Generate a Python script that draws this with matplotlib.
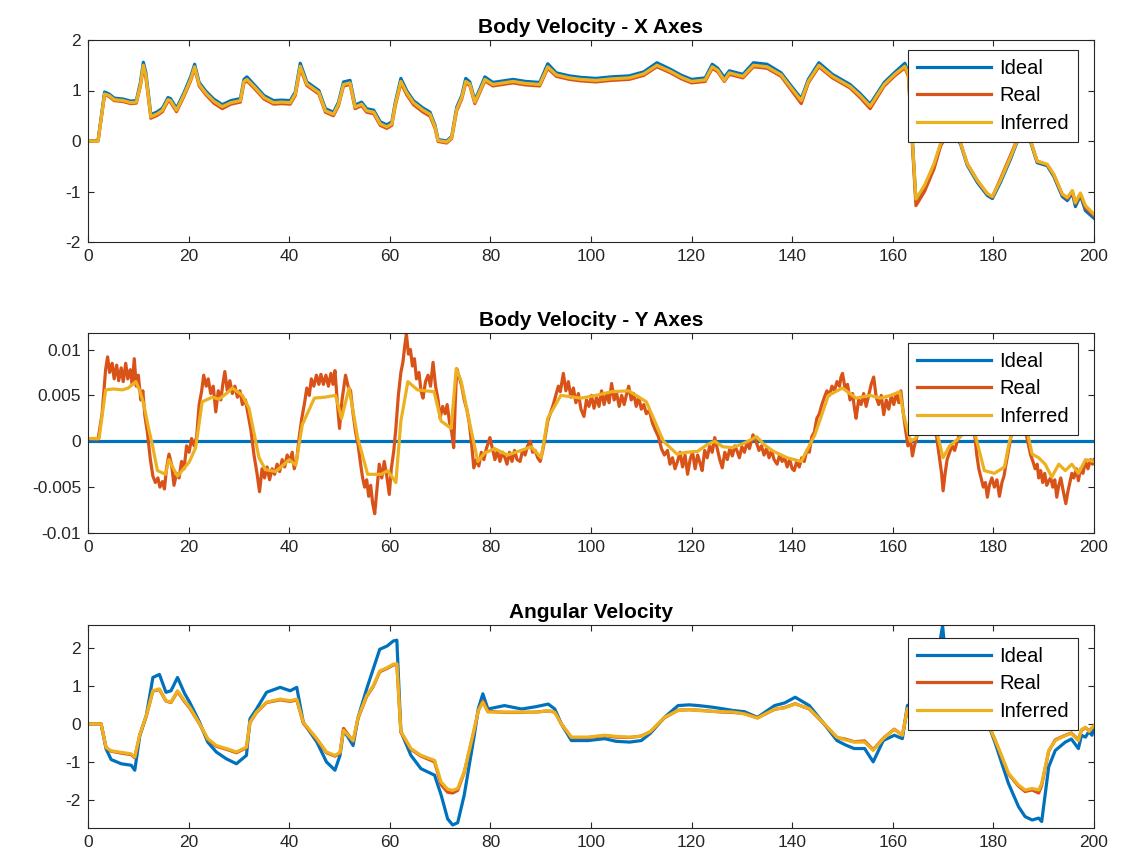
import matplotlib
matplotlib.use("Agg")
import matplotlib.pyplot as plt
import numpy as np

plt.rcParams['font.family'] = ['Liberation Sans', 'DejaVu Sans']
plt.rcParams['axes.unicode_minus'] = False

# ---------------- Panel 1 : Body Velocity - X ----------------
vx_t = [0, 2.0, 3.3, 4.2, 5.2, 7.0, 8.5, 9.6, 10.4, 11.0,
        11.5, 12.5, 13.8, 14.8, 15.9, 16.4, 17.6, 19.1, 20.4, 21.2,
        22.1, 23.4, 25.0, 26.7, 28.4, 30.3, 31.0, 31.6, 33.0, 35.0,
        36.9, 38.5, 40.2, 41.2, 42.2, 43.5, 44.9, 45.9, 47.2, 48.8,
        49.8, 50.8, 52.1, 53.1, 54.4, 55.4, 56.8, 58.1, 59.4, 60.4,
        61.1, 62.2, 63.4, 64.7, 66.5, 68.0, 69.0, 69.6, 71.3, 72.3,
        73.3, 74.3, 75.1, 75.9, 76.9, 77.9, 78.9, 80.5, 82.5, 84.5,
        87.0, 89.8, 91.4, 93.1, 95.7, 98.0, 101.0, 104.0, 107.6, 110.5,
        113.1, 115.8, 118.0, 120.0, 122.7, 124.1, 125.2, 126.5, 127.5, 130.2,
        132.3, 135.0, 137.8, 139.8, 141.8, 143.2, 145.3, 148.0, 151.5, 153.5,
        155.5, 158.3, 160.5, 162.4, 163.1, 164.6, 166.3, 168.2, 169.5, 171.3,
        173.5, 174.8, 176.8, 178.8, 179.8, 181.4, 183.4, 184.7, 186.0, 187.4,
        188.7, 190.7, 192.0, 193.7, 194.7, 195.7, 196.3, 197.3, 198.3, 200.0]
vx_ideal = [0.00, 0.01, 0.97, 0.93, 0.85, 0.83, 0.79, 0.80, 1.15, 1.56,
            1.36, 0.52, 0.58, 0.65, 0.86, 0.84, 0.65, 0.96, 1.27, 1.52,
            1.16, 0.99, 0.83, 0.72, 0.80, 0.84, 1.22, 1.27, 1.12, 0.90,
            0.80, 0.81, 0.80, 0.97, 1.54, 1.17, 1.07, 1.00, 0.64, 0.57,
            0.77, 1.17, 1.20, 0.71, 0.77, 0.64, 0.61, 0.38, 0.32, 0.38,
            0.77, 1.24, 0.99, 0.80, 0.66, 0.57, 0.31, 0.03, 0.00, 0.09,
            0.67, 0.90, 1.24, 1.17, 0.81, 1.03, 1.27, 1.16, 1.19, 1.22,
            1.18, 1.16, 1.53, 1.35, 1.29, 1.26, 1.24, 1.27, 1.29, 1.37,
            1.55, 1.42, 1.30, 1.22, 1.25, 1.52, 1.44, 1.26, 1.39, 1.32,
            1.55, 1.52, 1.35, 1.09, 0.84, 1.22, 1.55, 1.32, 1.12, 0.94,
            0.73, 1.16, 1.37, 1.54, 1.36, -1.18, -0.92, -0.48, -0.07, 0.27,
            -0.07, -0.48, -0.82, -1.08, -1.14, -0.82, -0.36, -0.02, 0.12, -0.02,
            -0.43, -0.49, -0.70, -1.10, -1.18, -1.03, -1.30, -1.08, -1.38, -1.53]
vx_real = [0.00, 0.00, 0.92, 0.88, 0.80, 0.78, 0.74, 0.75, 1.08, 1.45,
           1.26, 0.45, 0.51, 0.58, 0.79, 0.77, 0.58, 0.89, 1.19, 1.44,
           1.09, 0.92, 0.75, 0.64, 0.73, 0.77, 1.15, 1.19, 1.05, 0.83,
           0.73, 0.74, 0.73, 0.90, 1.44, 1.10, 1.00, 0.93, 0.57, 0.50,
           0.70, 1.09, 1.12, 0.64, 0.70, 0.57, 0.54, 0.31, 0.25, 0.31,
           0.70, 1.15, 0.91, 0.72, 0.58, 0.49, 0.25, -0.01, -0.04, 0.05,
           0.60, 0.83, 1.15, 1.10, 0.74, 0.96, 1.19, 1.09, 1.12, 1.15,
           1.11, 1.09, 1.44, 1.28, 1.22, 1.19, 1.17, 1.20, 1.22, 1.30,
           1.47, 1.35, 1.23, 1.15, 1.18, 1.44, 1.37, 1.18, 1.32, 1.25,
           1.47, 1.44, 1.28, 1.01, 0.74, 1.15, 1.47, 1.25, 1.05, 0.86,
           0.64, 1.09, 1.30, 1.45, 1.28, -1.28, -1.00, -0.55, -0.10, 0.22,
           -0.05, -0.45, -0.78, -1.05, -1.11, -0.75, -0.28, 0.02, 0.10, 0.00,
           -0.40, -0.47, -0.67, -1.06, -1.14, -1.00, -1.24, -1.05, -1.32, -1.48]
vx_inferred = [0.00, 0.00, 0.93, 0.90, 0.82, 0.80, 0.76, 0.77, 1.10, 1.50,
               1.30, 0.48, 0.54, 0.61, 0.82, 0.80, 0.61, 0.92, 1.22, 1.47,
               1.12, 0.95, 0.79, 0.68, 0.76, 0.80, 1.18, 1.22, 1.08, 0.86,
               0.76, 0.77, 0.76, 0.93, 1.48, 1.13, 1.03, 0.96, 0.60, 0.53,
               0.73, 1.12, 1.15, 0.67, 0.73, 0.60, 0.57, 0.34, 0.28, 0.34,
               0.73, 1.18, 0.95, 0.76, 0.62, 0.53, 0.28, 0.01, -0.02, 0.07,
               0.63, 0.86, 1.18, 1.13, 0.77, 0.99, 1.22, 1.12, 1.15, 1.18,
               1.14, 1.12, 1.47, 1.31, 1.25, 1.22, 1.20, 1.23, 1.25, 1.33,
               1.50, 1.38, 1.26, 1.18, 1.21, 1.47, 1.40, 1.20, 1.35, 1.28,
               1.50, 1.47, 1.31, 1.05, 0.80, 1.18, 1.50, 1.28, 1.08, 0.90,
               0.69, 1.12, 1.33, 1.48, 1.32, -1.15, -0.88, -0.45, -0.05, 0.25,
               -0.05, -0.45, -0.78, -1.04, -1.10, -0.78, -0.32, 0.00, 0.10, 0.00,
               -0.40, -0.46, -0.66, -1.05, -1.12, -0.98, -1.22, -1.03, -1.28, -1.45]

# ---------------- Panel 2 : Body Velocity - Y ----------------
vy_ideal_t = [0, 200]
vy_ideal = [0.0, 0.0]
vy_inferred_t = [0, 2.2, 3.5, 5.0, 6.8, 8.0, 9.5, 10.3, 11.1, 12.0,
                 12.8, 13.8, 15.4, 16.1, 17.0, 17.8, 19.0, 20.1, 21.4, 22.7,
                 24.7, 26.0, 27.5, 28.7, 30.7, 32.0, 34.0, 35.3, 37.3, 38.8,
                 40.0, 41.3, 42.6, 45.0, 47.0, 49.2, 50.4, 51.9, 53.6, 55.6,
                 58.3, 59.6, 61.2, 62.2, 63.6, 65.5, 68.8, 70.2, 72.2, 73.2,
                 74.2, 76.1, 77.5, 78.8, 80.8, 83.4, 86.1, 88.1, 90.1, 91.4,
                 94.0, 98.0, 101.0, 104.1, 107.5, 111.0, 114.4, 117.1, 119.0, 121.2,
                 123.0, 124.6, 126.2, 128.1, 130.5, 132.9, 134.5, 136.3, 139.0, 141.8,
                 144.5, 147.2, 150.0, 152.7, 155.5, 157.5, 159.6, 161.4, 162.1, 163.5,
                 164.5, 166.5, 168.7, 170.0, 171.3, 173.3, 174.8, 176.2, 178.2, 180.2,
                 182.2, 183.2, 185.0, 186.7, 187.7, 189.0, 190.3, 191.6, 193.0, 194.3,
                 195.6, 196.9, 198.3, 200.0]
vy_inferred = [0.0003, 0.0003, 0.0056, 0.0057, 0.0056, 0.0058, 0.0065, 0.0055, 0.0040, 0.0015,
               -0.0004, -0.0032, -0.0036, -0.0020, -0.0030, -0.0038, -0.0030, -0.0023, -0.0007, 0.0043,
               0.0048, 0.0046, 0.0052, 0.0058, 0.0050, 0.0036, -0.0018, -0.0031, -0.0033, -0.0026,
               -0.0020, -0.0026, 0.0018, 0.0047, 0.0048, 0.0050, 0.0025, 0.0058, 0.0004, -0.0036,
               -0.0036, -0.0032, -0.0045, 0.0022, 0.0065, 0.0056, 0.0054, 0.0022, 0.0014, 0.0079,
               0.0065, 0.0014, -0.0022, -0.0013, -0.0008, -0.0015, -0.0010, -0.0006, -0.0018, 0.0025,
               0.0050, 0.0047, 0.0050, 0.0054, 0.0055, 0.0043, 0.0000, -0.0014, -0.0012, -0.0011,
               -0.0004, 0.0000, -0.0006, -0.0007, -0.0002, 0.0005, -0.0004, -0.0011, -0.0018, -0.0022,
               0.0007, 0.0050, 0.0058, 0.0047, 0.0050, 0.0047, 0.0050, 0.0054, 0.0030, 0.0000,
               0.0003, 0.0020, 0.0011, -0.0018, -0.0005, 0.0004, 0.0015, 0.0011, -0.0032, -0.0035,
               -0.0028, 0.0000, 0.0030, 0.0011, -0.0014, -0.0018, -0.0025, -0.0039, -0.0025, -0.0032,
               -0.0025, -0.0035, -0.0020, -0.0022]
vy_real = [
    (0, 0.0003), (2.0, 0.0002), (2.8, 0.0030), (3.5, 0.0078), (3.9, 0.0092), (4.3, 0.0075),
    (4.8, 0.0085), (5.2, 0.0068), (5.7, 0.0083), (6.1, 0.0066), (6.6, 0.0080), (7.0, 0.0065),
    (7.5, 0.0085), (7.9, 0.0068), (8.4, 0.0078), (8.8, 0.0062), (9.2, 0.0090), (9.6, 0.0060),
    (10.0, 0.0072), (10.5, 0.0045), (10.9, 0.0055), (11.3, 0.0028), (11.8, 0.0010), (12.4, -0.0020),
    (12.9, -0.0038), (13.4, -0.0045), (13.9, -0.0040), (14.3, -0.0050), (14.8, -0.0044), (15.2, -0.0052),
    (15.6, -0.0030), (16.1, -0.0014), (16.6, -0.0025), (17.1, -0.0048), (17.6, -0.0035), (18.1, -0.0040),
    (18.6, -0.0022), (19.1, -0.0030), (19.6, -0.0005), (20.1, -0.0012), (20.6, 0.0003), (21.1, -0.0005),
    (21.6, 0.0005), (22.1, 0.0040), (22.6, 0.0055), (23.0, 0.0072), (23.5, 0.0060), (23.9, 0.0068),
    (24.4, 0.0052), (24.9, 0.0060), (25.4, 0.0032), (25.9, 0.0055), (26.4, 0.0045), (26.8, 0.0062),
    (27.2, 0.0076), (27.7, 0.0055), (28.2, 0.0066), (28.7, 0.0052), (29.2, 0.0060), (29.7, 0.0048),
    (30.2, 0.0055), (30.7, 0.0040), (31.3, 0.0045), (31.8, 0.0030), (32.4, 0.0012), (33.0, -0.0015),
    (33.6, -0.0035), (34.1, -0.0055), (34.6, -0.0030), (35.1, -0.0040), (35.6, -0.0028), (36.1, -0.0042),
    (36.6, -0.0030), (37.1, -0.0036), (37.6, -0.0025), (38.1, -0.0033), (38.6, -0.0020), (39.1, -0.0028),
    (39.6, -0.0015), (40.1, -0.0022), (40.6, -0.0012), (41.0, -0.0030), (41.5, -0.0020), (42.0, 0.0005),
    (42.5, 0.0025), (43.0, 0.0040), (43.5, 0.0058), (44.0, 0.0050), (44.4, 0.0068), (44.9, 0.0060),
    (45.4, 0.0072), (45.9, 0.0062), (46.3, 0.0073), (46.8, 0.0062), (47.3, 0.0072), (47.8, 0.0060),
    (48.3, 0.0074), (48.7, 0.0062), (49.1, 0.0077), (49.6, 0.0040), (50.0, 0.0014), (50.5, 0.0045),
    (51.2, 0.0072), (51.7, 0.0060), (52.2, 0.0055), (52.7, 0.0030), (53.2, 0.0010), (53.7, -0.0004),
    (54.2, -0.0025), (54.6, -0.0040), (55.0, -0.0050), (55.4, -0.0042), (55.8, -0.0060), (56.2, -0.0048),
    (56.6, -0.0068), (57.0, -0.0079), (57.4, -0.0055), (57.9, -0.0025), (58.4, -0.0040), (58.9, -0.0022),
    (59.4, -0.0038), (59.9, -0.0058), (60.3, -0.0030), (60.8, -0.0010), (61.2, 0.0014), (61.7, 0.0050),
    (62.2, 0.0075), (62.6, 0.0086), (63.0, 0.0105), (63.3, 0.0117), (63.7, 0.0095), (64.1, 0.0100),
    (64.5, 0.0082), (64.9, 0.0090), (65.3, 0.0068), (65.8, 0.0075), (66.2, 0.0055), (66.6, 0.0047),
    (67.1, 0.0065), (67.6, 0.0072), (68.1, 0.0060), (68.6, 0.0086), (69.1, 0.0060), (69.6, 0.0045),
    (70.0, 0.0025), (70.5, 0.0038), (71.0, 0.0030), (71.4, 0.0040), (71.9, 0.0020), (72.3, 0.0010),
    (72.7, -0.0007), (73.0, 0.0040), (73.3, 0.0079), (73.8, 0.0070), (74.3, 0.0060), (74.8, 0.0045),
    (75.3, 0.0035), (75.8, 0.0020), (76.3, -0.0005), (76.7, -0.0029), (77.2, -0.0020), (77.7, -0.0027),
    (78.2, -0.0012), (78.7, -0.0020), (79.2, -0.0008), (79.9, 0.0004), (80.4, -0.0008), (80.9, -0.0020),
    (81.4, -0.0010), (81.9, -0.0022), (82.4, -0.0012), (82.9, -0.0018), (83.3, -0.0025), (83.8, -0.0012),
    (84.3, -0.0022), (84.8, -0.0010), (85.3, -0.0020), (85.9, -0.0022), (86.4, -0.0010), (86.9, -0.0015),
    (87.4, -0.0005), (87.9, 0.0000), (88.4, -0.0012), (88.9, -0.0010), (89.4, -0.0018), (89.9, -0.0022),
    (90.4, -0.0010), (90.9, 0.0005), (91.4, 0.0022), (92.0, 0.0032), (92.5, 0.0040), (93.0, 0.0050),
    (93.5, 0.0060), (93.9, 0.0054), (94.5, 0.0074), (95.0, 0.0055), (95.5, 0.0065), (96.0, 0.0048),
    (96.5, 0.0058), (97.0, 0.0042), (97.5, 0.0052), (98.0, 0.0035), (98.6, 0.0027), (99.1, 0.0045),
    (99.6, 0.0038), (100.1, 0.0050), (100.6, 0.0036), (101.1, 0.0048), (101.6, 0.0038), (102.1, 0.0055),
    (102.6, 0.0040), (103.1, 0.0052), (103.6, 0.0042), (104.1, 0.0063), (104.6, 0.0045), (105.1, 0.0052),
    (105.6, 0.0038), (106.1, 0.0050), (106.6, 0.0040), (107.1, 0.0052), (107.5, 0.0060), (108.0, 0.0045),
    (108.5, 0.0052), (109.0, 0.0038), (109.5, 0.0048), (110.0, 0.0035), (110.5, 0.0040), (111.0, 0.0030),
    (111.6, 0.0034), (112.2, 0.0020), (112.8, 0.0012), (113.4, 0.0005), (114.0, -0.0008), (114.6, -0.0015),
    (115.2, -0.0010), (115.7, -0.0025), (116.2, -0.0018), (116.7, -0.0030), (117.2, -0.0022), (117.7, -0.0012),
    (118.2, -0.0028), (118.7, -0.0015), (119.2, -0.0036), (119.7, -0.0020), (120.2, -0.0012), (120.7, -0.0030),
    (121.2, -0.0015), (121.7, -0.0024), (122.1, -0.0032), (122.6, -0.0010), (123.1, -0.0018), (123.6, -0.0005),
    (124.1, -0.0012), (124.6, 0.0004), (125.1, -0.0008), (125.6, -0.0020), (126.1, -0.0029), (126.6, -0.0012),
    (127.1, -0.0020), (127.6, -0.0008), (128.1, -0.0016), (128.6, -0.0005), (129.0, -0.0010), (129.5, -0.0018),
    (130.0, -0.0006), (130.5, -0.0012), (131.0, -0.0002), (131.5, -0.0008), (132.2, 0.0007), (132.8, 0.0000),
    (133.4, -0.0010), (133.9, -0.0005), (134.4, -0.0015), (134.9, -0.0008), (135.4, -0.0018), (135.9, -0.0010),
    (136.4, -0.0020), (137.0, -0.0025), (137.5, -0.0015), (138.0, -0.0022), (138.5, -0.0018), (139.0, -0.0028),
    (139.5, -0.0020), (140.0, -0.0030), (140.4, -0.0032), (140.9, -0.0022), (141.4, -0.0028), (141.9, -0.0018),
    (142.4, -0.0022), (142.9, -0.0010), (143.4, -0.0012), (143.9, 0.0005), (144.4, 0.0010), (144.9, 0.0025),
    (145.4, 0.0030), (145.9, 0.0040), (146.4, 0.0048), (146.9, 0.0055), (147.4, 0.0050), (147.9, 0.0060),
    (148.4, 0.0055), (148.9, 0.0065), (149.4, 0.0060), (149.7, 0.0070), (150.0, 0.0074), (150.5, 0.0058),
    (151.0, 0.0062), (151.5, 0.0045), (152.0, 0.0052), (152.4, 0.0035), (152.7, 0.0025), (153.2, 0.0045),
    (153.7, 0.0040), (154.2, 0.0052), (154.7, 0.0038), (155.2, 0.0050), (155.7, 0.0062), (156.2, 0.0070),
    (156.7, 0.0048), (157.2, 0.0040), (157.7, 0.0050), (158.2, 0.0029), (158.7, 0.0045), (159.2, 0.0035),
    (159.7, 0.0050), (160.2, 0.0040), (160.7, 0.0052), (161.2, 0.0042), (161.6, 0.0055), (162.1, 0.0030),
    (162.6, 0.0010), (163.0, -0.0005), (163.5, 0.0002), (163.9, -0.0016), (164.3, -0.0005), (164.7, 0.0003),
    (165.2, 0.0015), (165.7, 0.0025), (166.2, 0.0030), (166.7, 0.0020), (167.2, 0.0030), (167.7, 0.0025),
    (168.2, 0.0020), (168.7, 0.0005), (169.2, -0.0015), (169.7, -0.0035), (170.0, -0.0054), (170.4, -0.0035),
    (170.8, -0.0020), (171.3, -0.0012), (171.8, -0.0005), (172.3, -0.0010), (172.8, 0.0000), (173.3, 0.0008),
    (173.8, 0.0012), (174.3, 0.0018), (174.8, 0.0015), (175.3, 0.0022), (175.8, 0.0018), (176.2, 0.0011),
    (176.7, -0.0015), (177.1, -0.0030), (177.5, -0.0039), (178.0, -0.0050), (178.4, -0.0045), (178.8, -0.0061),
    (179.2, -0.0048), (179.7, -0.0040), (180.2, -0.0050), (180.7, -0.0042), (181.2, -0.0060), (181.7, -0.0045),
    (182.1, -0.0038), (182.5, -0.0025), (183.0, -0.0010), (183.5, 0.0005), (184.0, 0.0020), (184.5, 0.0028),
    (185.0, 0.0035), (185.5, 0.0030), (186.0, 0.0020), (186.5, 0.0008), (187.0, -0.0005), (187.4, -0.0015),
    (187.8, -0.0021), (188.3, -0.0030), (188.7, -0.0025), (189.0, -0.0040), (189.4, -0.0032), (189.8, -0.0045),
    (190.2, -0.0035), (190.6, -0.0048), (191.0, -0.0043), (191.4, -0.0040), (191.8, -0.0050), (192.2, -0.0042),
    (192.6, -0.0061), (193.0, -0.0048), (193.4, -0.0040), (193.8, -0.0052), (194.1, -0.0060), (194.4, -0.0068),
    (194.8, -0.0055), (195.2, -0.0045), (195.6, -0.0035), (196.0, -0.0040), (196.5, -0.0030), (196.9, -0.0043),
    (197.3, -0.0030), (197.8, -0.0035), (198.3, -0.0022), (198.8, -0.0030), (199.3, -0.0020), (199.7, -0.0025),
    (200.0, -0.0020)]

# ---------------- Panel 3 : Angular Velocity ----------------
w_t = [0, 2.6, 3.6, 4.6, 6.6, 8.6, 9.3, 10.3, 11.6, 12.9,
       14.2, 15.5, 16.5, 17.8, 19.2, 20.2, 22.2, 23.8, 25.5, 27.5,
       29.5, 31.5, 32.2, 33.5, 35.5, 38.2, 40.2, 41.5, 42.8, 45.5,
       47.4, 49.1, 50.1, 50.8, 51.7, 52.7, 53.7, 55.4, 56.7, 58.0,
       59.5, 60.7, 61.4, 62.2, 64.2, 66.2, 68.9, 70.2, 71.5, 72.5,
       73.5, 74.8, 76.8, 77.6, 78.5, 79.5, 82.8, 86.2, 89.0, 91.5,
       92.8, 94.1, 96.1, 99.4, 102.7, 105.0, 107.7, 110.0, 111.8, 114.6,
       117.3, 119.5, 121.4, 124.0, 126.0, 128.3, 130.5, 133.1, 136.5, 138.5,
       140.6, 143.4, 146.1, 148.9, 150.5, 152.3, 154.4, 156.1, 158.1, 160.3,
       161.9, 162.9, 164.5, 166.5, 168.5, 169.3, 169.9, 170.6, 172.5, 175.0,
       177.5, 179.1, 180.4, 181.7, 183.0, 185.0, 186.3, 187.7, 189.0, 189.6,
       191.0, 192.3, 194.3, 195.5, 196.9, 197.5, 198.3, 199.0, 199.6, 200.0]
w_ideal = [0.00, 0.00, -0.66, -0.94, -1.05, -1.09, -1.22, -0.31, 0.22, 1.22,
           1.30, 0.83, 0.87, 1.22, 0.80, 0.57, 0.04, -0.48, -0.74, -0.92,
           -1.05, -0.83, 0.13, 0.39, 0.83, 0.96, 0.87, 0.96, 0.04, -0.48,
           -1.00, -1.22, -0.83, -0.17, -0.35, -0.57, 0.17, 0.92, 1.44, 1.96,
           2.05, 2.18, 2.20, -0.20, -0.83, -1.18, -1.35, -1.87, -2.50, -2.66,
           -2.60, -1.87, -0.30, 0.40, 0.79, 0.39, 0.48, 0.39, 0.45, 0.52,
           0.39, 0.00, -0.44, -0.44, -0.39, -0.46, -0.48, -0.44, -0.25, 0.17,
           0.48, 0.50, 0.48, 0.44, 0.40, 0.35, 0.32, 0.17, 0.48, 0.55,
           0.70, 0.48, 0.04, -0.44, -0.55, -0.65, -0.65, -1.00, -0.44, -0.30,
           -0.39, 0.48, 0.60, 0.90, 1.40, 2.10, 2.58, 1.60, 1.10, 0.70,
           0.30, -0.05, -0.52, -1.05, -1.57, -2.18, -2.44, -2.53, -2.48, -2.57,
           -1.13, -0.70, -0.48, -0.40, -0.65, -0.30, -0.35, -0.20, -0.30, -0.05]
w_real = [0.00, 0.00, -0.63, -0.72, -0.77, -0.81, -0.89, -0.29, 0.21, 0.86,
          0.90, 0.60, 0.56, 0.85, 0.58, 0.42, -0.01, -0.41, -0.59, -0.67,
          -0.76, -0.63, 0.03, 0.30, 0.56, 0.63, 0.59, 0.63, 0.02, -0.41,
          -0.76, -0.85, -0.77, -0.12, -0.28, -0.46, 0.15, 0.72, 0.98, 1.37,
          1.46, 1.55, 1.56, -0.22, -0.67, -0.85, -1.00, -1.60, -1.80, -1.82,
          -1.75, -1.28, -0.15, 0.35, 0.60, 0.33, 0.30, 0.30, 0.31, 0.34,
          0.31, 0.00, -0.36, -0.36, -0.31, -0.35, -0.36, -0.32, -0.21, 0.16,
          0.36, 0.37, 0.36, 0.33, 0.31, 0.30, 0.27, 0.16, 0.38, 0.43,
          0.53, 0.39, 0.03, -0.36, -0.40, -0.47, -0.45, -0.68, -0.38, -0.14,
          -0.30, 0.38, 0.48, 0.63, 0.88, 1.08, 1.18, 0.98, 0.78, 0.48,
          0.20, -0.05, -0.45, -0.88, -1.32, -1.64, -1.78, -1.74, -1.82, -1.62,
          -0.72, -0.42, -0.30, -0.24, -0.42, -0.17, -0.10, -0.18, -0.11, -0.05]
w_inferred = [0.00, 0.00, -0.62, -0.71, -0.75, -0.79, -0.87, -0.28, 0.22, 0.87,
              0.92, 0.61, 0.57, 0.87, 0.60, 0.44, 0.00, -0.39, -0.57, -0.65,
              -0.74, -0.61, 0.04, 0.31, 0.57, 0.65, 0.61, 0.65, 0.04, -0.39,
              -0.74, -0.83, -0.75, -0.17, -0.30, -0.44, 0.17, 0.74, 1.00, 1.39,
              1.48, 1.57, 1.58, -0.20, -0.65, -0.83, -0.96, -1.53, -1.72, -1.75,
              -1.70, -1.26, -0.13, 0.35, 0.57, 0.31, 0.31, 0.31, 0.30, 0.35,
              0.30, 0.00, -0.35, -0.35, -0.30, -0.33, -0.35, -0.33, -0.20, 0.17,
              0.35, 0.38, 0.35, 0.33, 0.32, 0.31, 0.26, 0.15, 0.39, 0.42,
              0.52, 0.40, 0.04, -0.35, -0.42, -0.48, -0.48, -0.70, -0.39, -0.15,
              -0.30, 0.40, 0.50, 0.65, 0.90, 1.10, 1.20, 1.00, 0.80, 0.50,
              0.20, -0.05, -0.44, -0.87, -1.30, -1.61, -1.74, -1.70, -1.74, -1.57,
              -0.70, -0.44, -0.31, -0.25, -0.44, -0.15, -0.09, -0.20, -0.10, -0.05]

titles = ["Body Velocity - X Axes", "Body Velocity - Y Axes", "Angular Velocity"]
labels = ["Ideal", "Real", "Inferred"]
colors = ["#0072BD", "#D95319", "#EDB120"]
x_ticks = list(range(0, 201, 20))
y_ticks = [[-2, -1, 0, 1, 2], [-0.01, -0.005, 0, 0.005, 0.01], [-2, -1, 0, 1, 2]]
y_ticklabels = [["-2", "-1", "0", "1", "2"], ["-0.01", "-0.005", "0", "0.005", "0.01"],
                ["-2", "-1", "0", "1", "2"]]
y_limits = [(-2, 2), (-0.01, 0.0118), (-2.74, 2.6)]

W, H = 1124, 865
fig = plt.figure(figsize=(W / 100, H / 100), dpi=100)
# axes boxes in pixels: (left, top, right, bottom)
boxes = [(88, 40, 1094, 242), (88, 333, 1094, 533), (88, 625, 1094, 828)]
legend_anchor = [(0.984, 0.952), (0.984, 0.952), (0.984, 0.937)]

series = [
    [(vx_t, vx_ideal), (vx_t, vx_real), (vx_t, vx_inferred)],
    [(vy_ideal_t, vy_ideal), ([p[0] for p in vy_real], [p[1] for p in vy_real]),
     (vy_inferred_t, vy_inferred)],
    [(w_t, w_ideal), (w_t, w_real), (w_t, w_inferred)],
]

axcol = "#262626"
for i in range(3):
    l, t, r, b = boxes[i]
    ax = fig.add_axes([l / W, 1 - b / H, (r - l) / W, (b - t) / H])
    for (xs, ys), c, lab in zip(series[i], colors, labels):
        ax.plot(xs, ys, color=c, lw=2.3, label=lab, solid_joinstyle='round')
    ax.set_xlim(0, 200)
    ax.set_ylim(*y_limits[i])
    ax.set_xticks(x_ticks)
    ax.set_yticks(y_ticks[i])
    ax.set_yticklabels(y_ticklabels[i])
    ax.tick_params(direction='in', top=True, right=True, length=4.5, width=0.8,
                   color=axcol, labelcolor=axcol, labelsize=12.5, pad=5)
    for s in ax.spines.values():
        s.set_color(axcol)
        s.set_linewidth(0.8)
    ax.set_title(titles[i], fontsize=15, fontweight='bold', color='black', pad=5)
    leg = ax.legend(loc='upper right', bbox_to_anchor=legend_anchor[i], borderaxespad=0,
                    fontsize=14.5, frameon=True, fancybox=False, framealpha=1,
                    handlelength=3.7, handletextpad=0.4, borderpad=0.45, labelspacing=0.42)
    leg.get_frame().set_edgecolor(axcol)
    leg.get_frame().set_linewidth(0.8)

fig.savefig("out.png", dpi=100)
